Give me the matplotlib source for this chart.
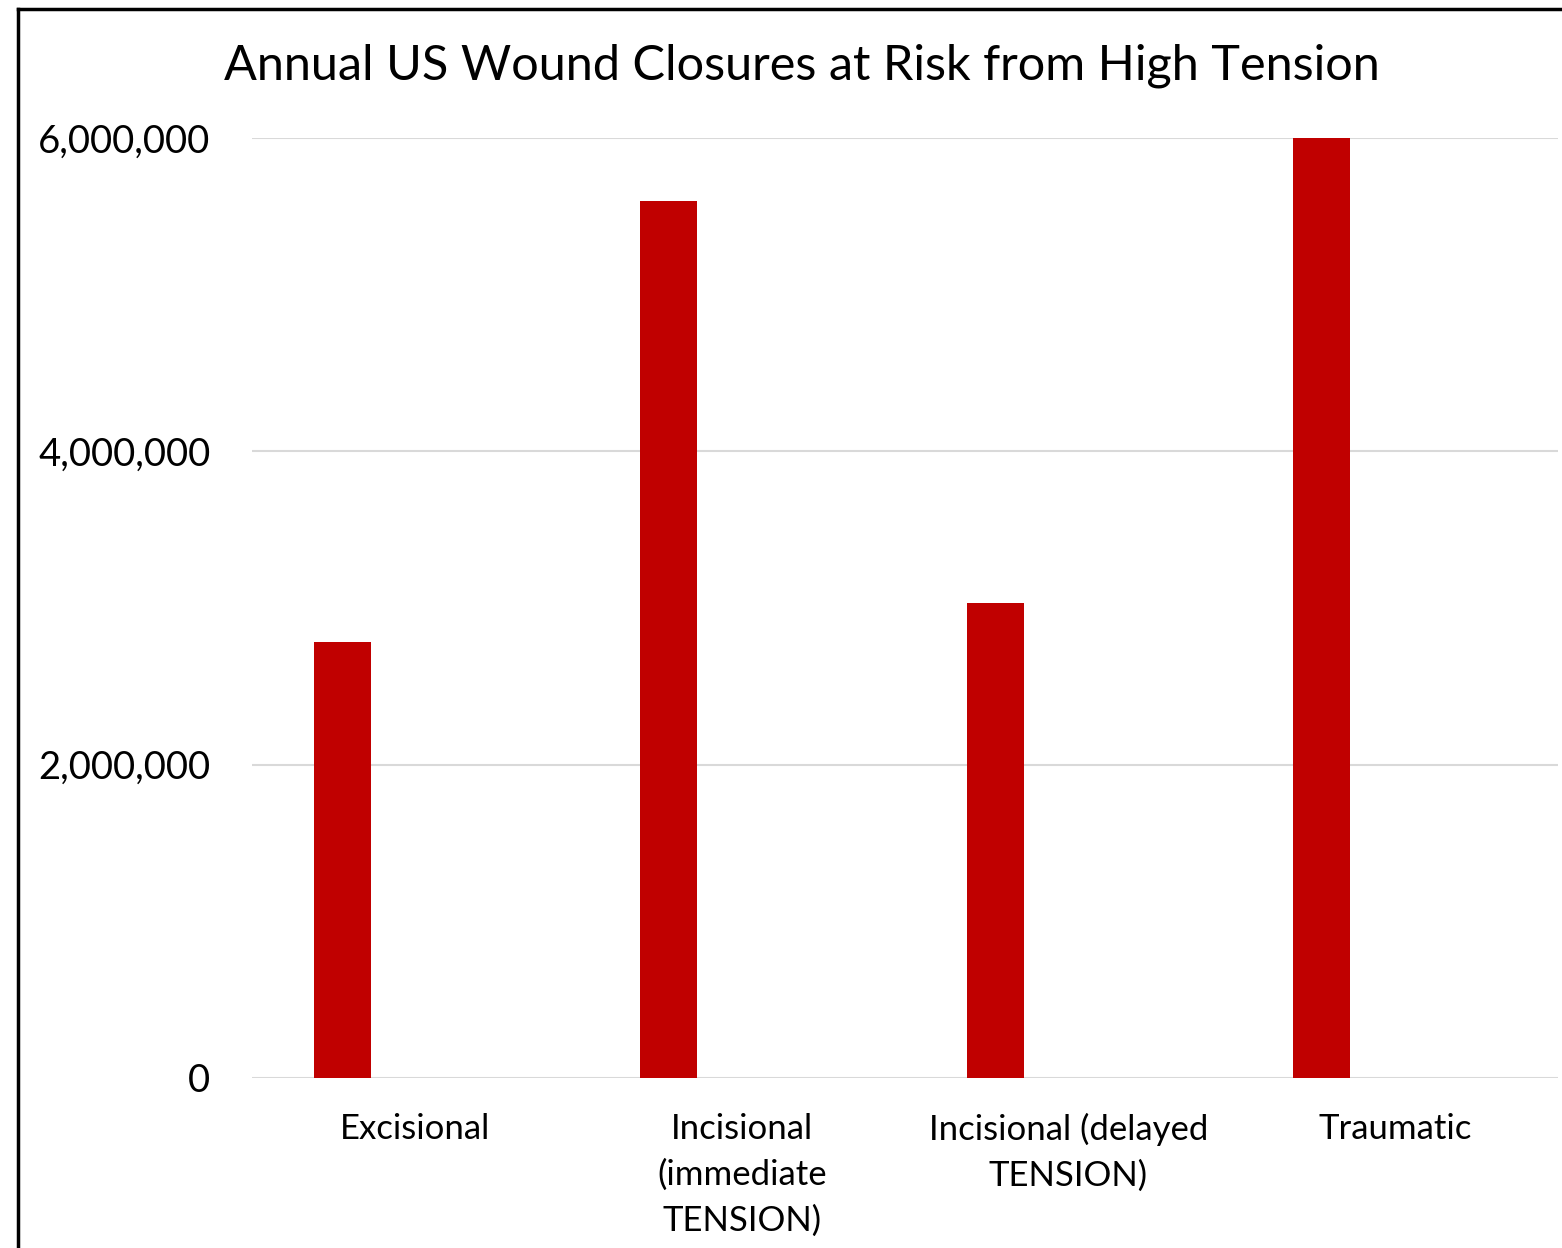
import matplotlib.pyplot as plt
from matplotlib.lines import Line2D
from matplotlib.ticker import FuncFormatter
import numpy as np

categories = ["Excisional", "Incisional\n(immediate\nTENSION)",
              "Incisional (delayed\nTENSION)", "Traumatic"]
closures = [2780000, 5600000, 3030000, 6000000]
y_ticks = [0, 2000000, 4000000, 6000000]

plt.rcParams["font.family"] = ["Lato", "DejaVu Sans"]

fig = plt.figure(figsize=(15.62, 12.48), dpi=100)
ax = fig.add_axes([252 / 1562, 170 / 1248, 1306 / 1562, 940 / 1248])

x = np.arange(len(categories))
ax.bar(x - 0.224, closures, width=0.175, color="#C00000", zorder=3)

ax.set_xlim(-0.5, 3.5)
ax.set_ylim(0, 6000000)
ax.set_yticks(y_ticks)
ax.yaxis.set_major_formatter(FuncFormatter(lambda v, _: f"{int(v):,}"))
ax.set_xticks(x)
ax.set_xticklabels(categories, linespacing=1.52)
ax.tick_params(axis="x", length=0, pad=25, labelsize=25)
ax.tick_params(axis="y", length=0, pad=30, labelsize=27.5)
ax.grid(axis="y", color="#D9D9D9", linewidth=1.5, zorder=0)
for s in ax.spines.values():
    s.set_visible(False)

fig.text(802 / 1562, 1 - 66 / 1248, "Annual US Wound Closures at Risk from High Tension",
         ha="center", va="center", fontsize=35)

# outer frame (left and top edges visible)
fx = 18 / 1562
fy = 1 - 9 / 1248
fig.add_artist(Line2D([fx, fx], [0, fy], color="black", linewidth=2.5, transform=fig.transFigure))
fig.add_artist(Line2D([fx, 1], [fy, fy], color="black", linewidth=2.5, transform=fig.transFigure))

fig.savefig("out.png", dpi=100)
